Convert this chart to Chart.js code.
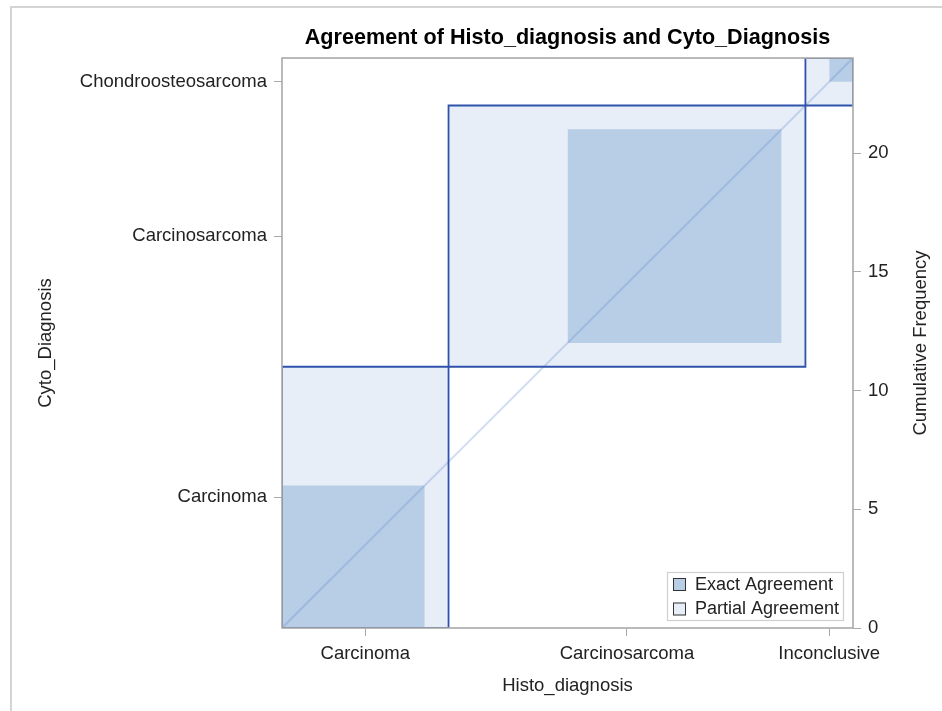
<!DOCTYPE html>
<html>
<head>
<meta charset="utf-8">
<script src="https://cdn.jsdelivr.net/npm/chart.js@4.4.1/dist/chart.umd.min.js"></script>
<style>
  html, body { margin: 0; padding: 0; background: #ffffff; }
  #wrap { width: 942px; height: 711px; position: relative; }
</style>
</head>
<body>
<div id="wrap"><canvas id="c" width="942" height="711"></canvas></div>
<script>
// ---------------- DATA ----------------
const chartTitle = 'Agreement of Histo_diagnosis and Cyto_Diagnosis';
const xAxisTitle = 'Histo_diagnosis';
const yAxisTitle = 'Cyto_Diagnosis';
const y2AxisTitle = 'Cumulative Frequency';
// x-axis categories (Histo_diagnosis)
const histoCategories = ['Carcinoma', 'Carcinosarcoma', 'Inconclusive'];
// y-axis categories (Cyto_Diagnosis)
const cytoCategories = ['Carcinoma', 'Carcinosarcoma', 'Chondroosteosarcoma'];
// cell counts: one array per Histo category, entries by Cyto category
const histoCarcinoma      = [6, 1, 0];
const histoCarcinosarcoma = [5, 9, 1];
const histoInconclusive   = [0, 1, 1];
// right-axis tick labels (cumulative frequency)
const freqTicks = [0, 5, 10, 15, 20];
const legendLabels = ['Exact Agreement', 'Partial Agreement'];

// ---------------- DERIVED (agreement-plot geometry) ----------------
const table = [histoCarcinoma, histoCarcinosarcoma, histoInconclusive];
const K = table.length;
const xMarg = table.map(r => r.reduce((a, b) => a + b, 0));
const yMarg = cytoCategories.map((_, j) => table.reduce((a, r) => a + r[j], 0));
const N = xMarg.reduce((a, b) => a + b, 0);
const xStart = [], yStart = [];
{ let sx = 0, sy = 0; for (let i = 0; i < K; i++) { xStart.push(sx); yStart.push(sy); sx += xMarg[i]; sy += yMarg[i]; } }
const xTickPos = xStart.map((s, i) => s + xMarg[i] / 2);
const yTickPos = yStart.map((s, i) => s + yMarg[i] / 2);

function rowSum(i, from, to) { let s = 0; for (let k = Math.max(0, from); k <= Math.min(K - 1, to); k++) s += table[i][k]; return s; }
function colSum(j, from, to) { let s = 0; for (let k = Math.max(0, from); k <= Math.min(K - 1, to); k++) s += table[k][j]; return s; }

const COL_EXACT = '#b8cde6';
const COL_PART = '#e8eef8';
const COL_LINE = '#2f52ab';
const COL_FRAME = '#a9a9a9';
const TXT = '#222222';

function rectFill(x0, y0, w, h, color, order) {
  return {
    type: 'line',
    data: [{ x: x0, y: y0 + h }, { x: x0 + w, y: y0 + h }],
    fill: { value: y0 },
    backgroundColor: color,
    borderWidth: 0,
    borderColor: 'rgba(0,0,0,0)',
    pointRadius: 0,
    pointHoverRadius: 0,
    order: order
  };
}
function rectOutline(x0, y0, w, h, order) {
  return {
    type: 'line',
    data: [{ x: x0, y: y0 }, { x: x0 + w, y: y0 }, { x: x0 + w, y: y0 + h }, { x: x0, y: y0 + h }, { x: x0, y: y0 }],
    fill: false,
    borderColor: COL_LINE,
    borderWidth: 1.8,
    pointRadius: 0,
    pointHoverRadius: 0,
    order: order
  };
}

const datasets = [];
for (let i = 0; i < K; i++) {
  // partial agreement region (cells within one category of the diagonal)
  const px0 = xStart[i] + rowSum(i, 0, i - 2);
  const pw = rowSum(i, i - 1, i + 1);
  const py0 = yStart[i] + colSum(i, 0, i - 2);
  const ph = colSum(i, i - 1, i + 1);
  datasets.push(rectFill(px0, py0, pw, ph, COL_PART, 4));
  // exact agreement square
  const ex0 = xStart[i] + rowSum(i, 0, i - 1);
  const ey0 = yStart[i] + colSum(i, 0, i - 1);
  const n = table[i][i];
  datasets.push(rectFill(ex0, ey0, n, n, COL_EXACT, 3));
  // marginal rectangle outline
  datasets.push(rectOutline(xStart[i], yStart[i], xMarg[i], yMarg[i], 1));
}
// diagonal reference line
datasets.push({
  type: 'line',
  data: [{ x: 0, y: 0 }, { x: N, y: N }],
  fill: false,
  borderColor: 'rgba(95,135,205,0.28)',
  borderWidth: 2,
  pointRadius: 0,
  order: 2
});

// ---------------- PLUGINS ----------------
const framePlugin = {
  id: 'frame',
  beforeDraw(chart) {
    const ctx = chart.ctx;
    ctx.save();
    ctx.fillStyle = '#ffffff';
    ctx.fillRect(0, 0, chart.width, chart.height);
    ctx.strokeStyle = '#d4d4d4';
    ctx.lineWidth = 2;
    ctx.beginPath();
    ctx.moveTo(11, chart.height);
    ctx.lineTo(11, 7);
    ctx.lineTo(chart.width, 7);
    ctx.stroke();
    ctx.restore();
  },
  afterDatasetsDraw(chart) {
    const a = chart.chartArea, ctx = chart.ctx;
    ctx.save();
    ctx.strokeStyle = COL_FRAME;
    ctx.lineWidth = 1.6;
    ctx.strokeRect(a.left, a.top, a.right - a.left, a.bottom - a.top);
    ctx.restore();
  },
  afterDraw(chart) {
    const a = chart.chartArea, ctx = chart.ctx;
    ctx.save();
    // right axis title, reading bottom-to-top
    ctx.font = '18.5px "Liberation Sans", Arial, sans-serif';
    ctx.fillStyle = TXT;
    ctx.textAlign = 'center';
    ctx.textBaseline = 'middle';
    ctx.translate(921, (a.top + a.bottom) / 2);
    ctx.rotate(-Math.PI / 2);
    ctx.fillText(y2AxisTitle, 0, 0);
    ctx.restore();

    // legend inside plot, lower right
    ctx.save();
    const bx1 = a.right - 9, by1 = a.bottom - 7;
    const bw = 177, bh = 49;
    const bx0 = bx1 - bw, by0 = by1 - bh;
    ctx.fillStyle = '#ffffff';
    ctx.fillRect(bx0, by0, bw, bh);
    ctx.strokeStyle = '#cfcfcf';
    ctx.lineWidth = 1.2;
    ctx.strokeRect(bx0 + 0.5, by0 + 0.5, bw - 1, bh - 1);
    const cols = [COL_EXACT, COL_PART];
    ctx.font = '18px "Liberation Sans", Arial, sans-serif';
    ctx.textBaseline = 'middle';
    ctx.textAlign = 'left';
    legendLabels.forEach((lab, k) => {
      const cy = by0 + 12 + k * 24.5;
      ctx.fillStyle = cols[k];
      ctx.fillRect(bx0 + 6, cy - 6, 13, 13);
      ctx.strokeStyle = '#333333';
      ctx.lineWidth = 1;
      ctx.strokeRect(bx0 + 6.5, cy - 5.5, 12, 12);
      ctx.fillStyle = TXT;
      ctx.fillText(lab, bx0 + 28, cy + 1);
    });
    ctx.restore();
  }
};

// ---------------- CHART ----------------
const tickFont = { family: '"Liberation Sans", Arial, sans-serif', size: 18.5 };
const titleFont = { family: '"Liberation Sans", Arial, sans-serif', size: 18.5 };

new Chart(document.getElementById('c'), {
  type: 'line',
  data: { datasets: datasets },
  plugins: [framePlugin],
  options: {
    responsive: false,
    devicePixelRatio: 1,
    animation: false,
    events: [],
    layout: { padding: 0 },
    plugins: {
      legend: { display: false },
      tooltip: { enabled: false },
      title: {
        display: true,
        text: chartTitle,
        fullSize: false,
        color: '#000000',
        font: { family: '"Liberation Sans", Arial, sans-serif', size: 21.6, weight: 'bold', lineHeight: 1.2 },
        padding: { top: 25.5, bottom: 6.6 }
      },
      filler: { propagate: false }
    },
    scales: {
      x: {
        type: 'linear',
        min: 0, max: N,
        position: 'bottom',
        afterBuildTicks: s => { s.ticks = xTickPos.map(v => ({ value: v })); },
        afterFit: s => { s.height = 83; },
        ticks: {
          autoSkip: false, maxRotation: 0, padding: 7, color: TXT, font: tickFont,
          callback: (v, i) => histoCategories[i]
        },
        grid: { drawOnChartArea: false, drawTicks: true, tickLength: 8, tickColor: COL_FRAME, color: COL_FRAME },
        border: { display: false },
        title: { display: true, text: xAxisTitle, color: TXT, font: titleFont, padding: { top: 0, bottom: 14 } }
      },
      y: {
        type: 'linear',
        min: 0, max: N,
        position: 'left',
        afterBuildTicks: s => { s.ticks = yTickPos.map(v => ({ value: v })); },
        afterFit: s => { s.width = 282; },
        ticks: {
          autoSkip: false, padding: 7, color: TXT, font: tickFont,
          callback: (v, i) => cytoCategories[i]
        },
        grid: { drawOnChartArea: false, drawTicks: true, tickLength: 8, tickColor: COL_FRAME, color: COL_FRAME },
        border: { display: false },
        title: { display: true, text: yAxisTitle, color: TXT, font: titleFont, padding: { top: 35, bottom: 0 } }
      },
      y2: {
        type: 'linear',
        min: 0, max: N,
        position: 'right',
        afterBuildTicks: s => { s.ticks = freqTicks.map(v => ({ value: v })); },
        afterFit: s => { s.width = 89; },
        ticks: { autoSkip: false, padding: 7, color: TXT, font: tickFont },
        grid: { drawOnChartArea: false, drawTicks: true, tickLength: 8, tickColor: COL_FRAME, color: COL_FRAME },
        border: { display: false }
      }
    }
  }
});
</script>
</body>
</html>
